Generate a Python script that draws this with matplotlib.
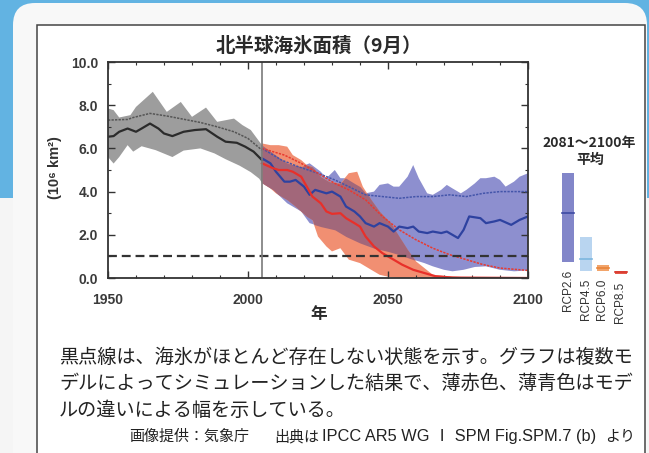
import numpy as np
import matplotlib.pyplot as plt
from matplotlib.patches import Rectangle, FancyBboxPatch
from matplotlib.ticker import MultipleLocator

plt.rcParams['font.family'] = ['Liberation Sans', 'Noto Sans CJK JP', 'DejaVu Sans']

# --- historical simulation (gray) ---
hist_up_years = [1950, 1952, 1954, 1958, 1960, 1966, 1971, 1976, 1980, 1985, 1989, 1995, 1998, 2001, 2005]
hist_up = [7.85, 7.77, 7.43, 7.54, 7.92, 8.62, 7.69, 8.15, 7.46, 7.89, 7.23, 7.38, 7.08, 6.85, 6.15]
hist_lo_years = [1950, 1952, 1954, 1957, 1959, 1962, 1967, 1973, 1977, 1983, 1988, 1992, 1997, 2001, 2004, 2005]
hist_lo = [5.6, 5.3, 5.6, 6.15, 5.85, 6.1, 5.92, 5.6, 5.9, 6.0, 5.77, 5.5, 5.2, 4.9, 4.6, 4.4]
hist_mean_years = [1950, 1952, 1954, 1957, 1960, 1962, 1965, 1968, 1970, 1973, 1977, 1981, 1985,
                   1989, 1992, 1996, 1999, 2002, 2005]
hist_mean = [6.54, 6.57, 6.77, 6.92, 6.77, 6.92, 7.15, 6.92, 6.69, 6.57, 6.77, 6.85, 6.89,
             6.54, 6.31, 6.26, 6.08, 5.85, 5.46]
hist_all_years = [1950, 1957, 1959, 1965, 1971, 1977, 1983, 1989, 1995, 2000, 2005]
hist_all = [7.31, 7.34, 7.43, 7.62, 7.5, 7.35, 7.2, 7.0, 6.77, 6.46, 5.92]

# --- RCP8.5 (red) ---
r85_up_years = [2005, 2008, 2011, 2014, 2016, 2019, 2021, 2023, 2026, 2029, 2033, 2036, 2039, 2041,
                2044, 2047, 2051, 2054, 2057, 2060, 2063, 2066, 2072, 2078, 2100]
r85_up = [6.23, 6.15, 6.15, 6.08, 5.69, 5.46, 5.23, 5.15, 4.69, 4.46, 4.38, 4.85, 4.92, 4.23,
          3.62, 3.08, 2.54, 1.92, 1.31, 0.77, 0.46, 0.15, 0.08, 0.03, 0.0]
r85_lo_years = [2005, 2008, 2010, 2014, 2017, 2021, 2023, 2025, 2028, 2030, 2033, 2036, 2040, 2044,
                2047, 2051, 2054, 2100]
r85_lo = [4.4, 4.15, 3.92, 3.62, 3.31, 2.85, 2.69, 1.92, 1.46, 1.23, 1.38, 0.85, 0.69, 0.38,
          0.15, 0.03, 0.0, 0.0]
r85_mean_years = [2005, 2009, 2011, 2014, 2016, 2019, 2021, 2023, 2026, 2028, 2030, 2033, 2035, 2038,
                  2040, 2042, 2045, 2048, 2052, 2055, 2059, 2063, 2067, 2073, 2100]
r85_mean = [5.31, 5.08, 5.0, 5.0, 4.92, 4.69, 4.23, 3.77, 3.46, 3.08, 2.97, 3.0, 2.77, 2.54,
            2.38, 1.92, 1.46, 1.15, 0.85, 0.62, 0.38, 0.23, 0.08, 0.02, 0.0]
r85_all_years = [2005, 2013, 2019, 2025, 2031, 2036, 2042, 2048, 2054, 2060, 2066, 2072, 2078, 2084, 2090, 2100]
r85_all = [6.0, 5.69, 5.31, 4.85, 4.38, 4.08, 3.62, 2.85, 2.23, 1.77, 1.38, 1.08, 0.85, 0.62, 0.46, 0.35]

# --- RCP2.6 (blue) ---
r26_up_years = [2005, 2009, 2014, 2019, 2022, 2026, 2028, 2031, 2033, 2035, 2038, 2040, 2042, 2045,
                2047, 2050, 2052, 2054, 2057, 2059, 2061, 2064, 2066, 2069, 2071, 2073, 2076, 2078,
                2081, 2083, 2085, 2088, 2090, 2092, 2095, 2097, 2100]
r26_up = [6.15, 5.77, 5.31, 5.15, 5.31, 4.92, 4.62, 5.0, 4.62, 4.62, 4.38, 4.23, 3.92, 4.0,
          4.31, 4.38, 4.23, 4.23, 4.69, 5.23, 4.62, 3.92, 3.85, 4.08, 4.31, 4.15, 3.92, 4.08,
          4.38, 4.62, 4.62, 4.69, 4.54, 4.23, 4.46, 4.69, 4.85]
r26_lo_years = [2005, 2009, 2014, 2019, 2022, 2026, 2031, 2035, 2040, 2045, 2050, 2054, 2059, 2063,
                2066, 2070, 2073, 2077, 2081, 2085, 2090, 2095, 2100]
r26_lo = [4.4, 4.08, 3.46, 3.08, 2.54, 2.38, 2.23, 1.92, 1.62, 1.38, 1.23, 1.08, 0.85, 0.69,
          0.54, 0.38, 0.31, 0.38, 0.51, 0.54, 0.38, 0.31, 0.35]
r26_mean_years = [2005, 2008, 2010, 2013, 2015, 2017, 2020, 2022, 2024, 2028, 2030, 2033, 2035, 2038,
                  2040, 2042, 2045, 2047, 2050, 2052, 2054, 2057, 2059, 2061, 2064, 2066, 2069, 2071,
                  2073, 2075, 2077, 2079, 2083, 2085, 2088, 2090, 2094, 2097, 2100]
r26_mean = [5.54, 5.31, 4.92, 4.46, 4.46, 4.54, 4.23, 3.85, 4.08, 3.92, 4.0, 3.77, 3.31, 3.08,
            2.85, 2.54, 2.38, 2.54, 2.38, 2.15, 2.38, 2.31, 2.38, 2.15, 2.08, 2.15, 2.08, 2.15,
            2.0, 1.85, 2.23, 2.85, 2.77, 2.54, 2.62, 2.69, 2.46, 2.69, 2.85]
r26_all_years = [2005, 2012, 2018, 2025, 2031, 2036, 2042, 2048, 2054, 2060, 2066, 2072, 2078, 2084, 2090, 2100]
r26_all = [6.0, 5.46, 5.15, 4.85, 4.54, 4.23, 3.85, 3.77, 3.69, 3.77, 3.77, 3.85, 3.77, 3.92, 4.0, 4.0]

# --- 2081-2100 mean bars ---
rcp_names = ['RCP2.6', 'RCP4.5', 'RCP6.0', 'RCP8.5']
bar_low = [0.74, 0.32, 0.32, 0.18]
bar_high = [4.84, 1.89, 0.60, 0.34]
bar_mean = [3.0, 0.88, 0.46, 0.26]
bar_colors = ['#8286c9', '#b9d5f0', '#f2a46a', '#e4584a']
bar_line_colors = ['#3d4aa3', '#7cb6df', '#e8843a', '#d83a30']

W, H = 649, 453


def fx(px):
    return px / W


def fy(py):
    return 1 - py / H


fig = plt.figure(figsize=(W / 100, H / 100), dpi=100)
fig.patch.set_facecolor('#f5f5f5')

# page background
fig.add_artist(Rectangle((0, fy(198)), 1, 1 - fy(198), transform=fig.transFigure,
                         facecolor='#62b3e2', edgecolor='none', zorder=0))
fig.add_artist(FancyBboxPatch((13, -40), 634, H - 3 + 40, boxstyle='round,pad=0,rounding_size=22',
                              transform=None, facecolor='#f8f8f8', edgecolor='none', zorder=1))
fig.add_artist(Rectangle((37, -20), 608, H - 25 + 20, transform=None,
                         facecolor='white', edgecolor='#444444', linewidth=1.1, zorder=2))

ax = fig.add_axes([fx(108), fy(278), fx(528) - fx(108), fy(62) - fy(278)])
ax.set_zorder(3)
ax.set_facecolor('white')

ax.fill(np.r_[hist_up_years, hist_lo_years[::-1]], np.r_[hist_up, hist_lo[::-1]],
        color='#9d9d9d', lw=0)
ax.fill(np.r_[r26_up_years, r26_lo_years[::-1]], np.r_[r26_up, r26_lo[::-1]],
        color='#8d8fcf', lw=0)
ax.fill(np.r_[r85_up_years, r85_lo_years[::-1]], np.r_[r85_up, r85_lo[::-1]],
        color='#f18f72', lw=0)

# where the two ranges overlap the colours mix to a darker mauve
g = np.linspace(2005, 2100, 800)
ov_lo = np.maximum(np.interp(g, r85_lo_years, r85_lo), np.interp(g, r26_lo_years, r26_lo))
ov_up = np.minimum(np.interp(g, r85_up_years, r85_up), np.interp(g, r26_up_years, r26_up))
ax.fill_between(g, ov_lo, ov_up, where=ov_up > ov_lo, color='#a2677a', lw=0, interpolate=True)

ax.plot(hist_all_years, hist_all, color='#555555', lw=1.1, ls=(0, (1.5, 0.8)))
ax.plot(r26_all_years, r26_all, color='#4455aa', lw=1.1, ls=(0, (1.5, 0.8)))
ax.plot(r85_all_years, r85_all, color='#e83a30', lw=1.1, ls=(0, (1.5, 0.8)))
ax.plot(hist_mean_years, hist_mean, color='#2b2b2b', lw=1.6)
ax.plot(r26_mean_years, r26_mean, color='#2e42a0', lw=1.6)
ax.plot(r85_mean_years, r85_mean, color='#e8302a', lw=1.6)

ax.axhline(1.0, color='#333333', lw=1.6, dashes=(4, 2.2))
ax.axvline(2005, color='#7a7a7a', lw=1.2)

ax.set_xlim(1950, 2100)
ax.set_ylim(0, 10)
ax.set_xticks([1950, 2000, 2050, 2100])
ax.set_yticks([0, 2, 4, 6, 8, 10])
ax.set_yticklabels(['0.0', '2.0', '4.0', '6.0', '8.0', '10.0'])
ax.xaxis.set_minor_locator(MultipleLocator(10))
ax.yaxis.set_minor_locator(MultipleLocator(1))
ax.tick_params(which='both', direction='in', top=True, right=True, colors='#333333')
ax.tick_params(which='major', length=5, width=1.0, labelsize=10, labelcolor='#3a3a3a')
ax.tick_params(which='minor', length=2.5, width=0.8)
ax.tick_params(axis='x', which='major', pad=11)
ax.tick_params(axis='y', which='major', pad=7)
for lab in ax.get_xticklabels() + ax.get_yticklabels():
    lab.set_fontweight('bold')
for sp in ax.spines.values():
    sp.set_color('#333333')
    sp.set_linewidth(1.3)

# titles and axis labels
fig.text(fx(319), fy(46), '北半球海氷面積（9月）', ha='center', va='center', fontsize=14,
         fontweight='bold', family=['Noto Sans CJK JP'], color='#2a2a2a', zorder=5)
fig.text(fx(55), fy(168), '(10⁶ km²)', ha='center', va='center', rotation=90, fontsize=10.5,
         fontweight='bold', family=['Liberation Sans', 'DejaVu Sans'], color='#333333', zorder=5)
fig.text(fx(319), fy(314), '年', ha='center', va='center', fontsize=12,
         fontweight='bold', family=['Noto Sans CJK JP'], color='#2a2a2a', zorder=5)

# 2081-2100 mean bars, same vertical scale as main axes
bx = fig.add_axes([fx(555), fy(278), fx(635) - fx(555), fy(62) - fy(278)])
bx.set_zorder(3)
bx.set_xlim(555, 635)
bx.set_ylim(0, 10)
bx.axis('off')
bar_x = [567.5, 585.5, 602.5, 620.5]
for i, name in enumerate(rcp_names):
    bx.bar(bar_x[i], bar_high[i] - bar_low[i], bottom=bar_low[i], width=12,
           color=bar_colors[i], edgecolor='none')
    bx.plot([bar_x[i] - 6, bar_x[i] + 6], [bar_mean[i], bar_mean[i]],
            color=bar_line_colors[i], lw=1.2)
    bx.annotate(name, (bar_x[i], bar_low[i]), xytext=(0, -8), textcoords='offset pixels',
                rotation=90, ha='center', va='top', fontsize=8.5, color='#333333')

fig.text(fx(589), fy(143), '2081～2100年', ha='center', va='center', fontsize=10,
         fontweight='bold', family=['Noto Sans CJK JP'], color='#2a2a2a', zorder=5)
fig.text(fx(590), fy(160), '平均', ha='center', va='center', fontsize=10,
         fontweight='bold', family=['Noto Sans CJK JP'], color='#2a2a2a', zorder=5)

# caption
caption = ['黒点線は、海氷がほとんど存在しない状態を示す。グラフは複数モ',
           'デルによってシミュレーションした結果で、薄赤色、薄青色はモデ',
           'ルの違いによる幅を示している。']
for k, line in enumerate(caption):
    fig.text(fx(59), fy(357 + 26.5 * k), line, ha='left', va='center', fontsize=13.8,
             family=['Noto Sans CJK JP'], color='#222222', zorder=5)
credit_style = dict(va='center', color='#222222', zorder=5)
fig.text(fx(129), fy(437), '画像提供：気象庁', ha='left', fontsize=10.8,
         family=['Noto Sans CJK JP'], **credit_style)
fig.text(fx(274), fy(437), '出典は', ha='left', fontsize=10.8,
         family=['Noto Sans CJK JP'], **credit_style)
fig.text(fx(322), fy(437), 'IPCC AR5 WG Ⅰ SPM Fig.SPM.7 (b)', ha='left', fontsize=11.8,
         family=['Liberation Sans', 'Noto Sans CJK JP'], **credit_style)
fig.text(fx(635), fy(437), 'より', ha='right', fontsize=10.8,
         family=['Noto Sans CJK JP'], **credit_style)

fig.savefig('out.png', dpi=100)
